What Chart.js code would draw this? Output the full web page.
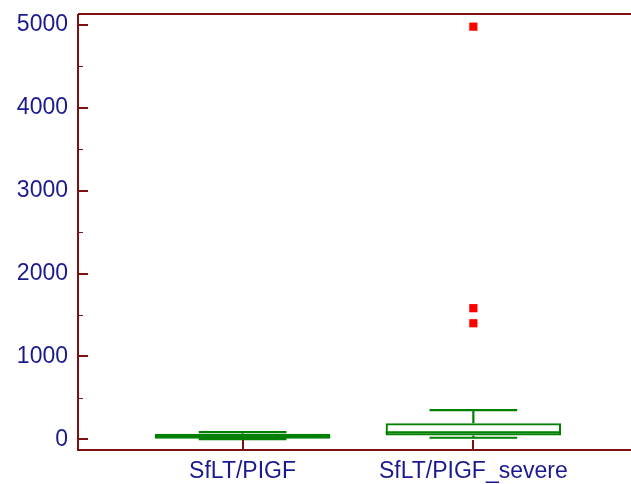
<!DOCTYPE html>
<html>
<head>
<meta charset="utf-8">
<script src="https://cdn.jsdelivr.net/npm/chart.js@4.4.1/dist/chart.umd.min.js"></script>
<style>
  html, body { margin: 0; padding: 0; background: #ffffff; }
  #wrap { width: 631px; height: 484px; position: relative; }
</style>
</head>
<body>
<div id="wrap"><canvas id="c" width="631" height="484"></canvas></div>
<script>
// ---- data ----
const categories = ['SfLT/PIGF', 'SfLT/PIGF_severe'];
const categoryPos = [1, 2];
const whiskerMin = [1, 18];
const q1Values = [5, 45];
const medianValues = [30, 82];
const q3Values = [65, 193];
const whiskerMax = [85, 352];
const outlierCategory = [2, 2, 2];
const outlierValues = [4980, 1582, 1400];
const yTicks = [0, 1000, 2000, 3000, 4000, 5000];
const yTickLabels = ['0', '1000', '2000', '3000', '4000', '5000'];
const yMinorTicks = [500, 1500, 2500, 3500, 4500];

const AXIS = '#7d1010';
const GREEN = '#008000';
const TEXT = '#1a1a8e';
const FONT = 'Liberation Sans, Arial, sans-serif';

const boxData = categoryPos.map((x, i) => ({ x: x, y: [q1Values[i], q3Values[i]] }));
const outlierData = outlierValues.map((v, i) => ({ x: outlierCategory[i], y: v }));

const boxPlugin = {
  id: 'boxExtras',
  afterDatasetsDraw(chart) {
    const ctx = chart.ctx;
    const ys = chart.scales.y;
    const meta = chart.getDatasetMeta(0);
    ctx.save();
    ctx.strokeStyle = GREEN;
    ctx.lineWidth = 2.2;
    meta.data.forEach((bar, i) => {
      const cx = bar.x;
      const w = bar.width;
      const capHalf = w / 4;
      const pMed = ys.getPixelForValue(medianValues[i]);
      const pQ1 = ys.getPixelForValue(q1Values[i]);
      const pQ3 = ys.getPixelForValue(q3Values[i]);
      const pMin = ys.getPixelForValue(whiskerMin[i]);
      const pMax = ys.getPixelForValue(whiskerMax[i]);
      ctx.beginPath();
      // median
      ctx.moveTo(cx - w / 2, pMed); ctx.lineTo(cx + w / 2, pMed);
      // whiskers
      ctx.moveTo(cx, pQ3); ctx.lineTo(cx, pMax);
      ctx.moveTo(cx, pQ1); ctx.lineTo(cx, pMin);
      // caps
      ctx.moveTo(cx - capHalf, pMax); ctx.lineTo(cx + capHalf, pMax);
      ctx.moveTo(cx - capHalf, pMin); ctx.lineTo(cx + capHalf, pMin);
      ctx.stroke();
    });
    ctx.restore();
  },
  afterDraw(chart) {
    const ctx = chart.ctx;
    const a = chart.chartArea;
    const ys = chart.scales.y;
    const xs = chart.scales.x;
    ctx.save();
    ctx.strokeStyle = AXIS;
    ctx.lineWidth = 2;
    ctx.beginPath();
    ctx.moveTo(a.left, a.top); ctx.lineTo(a.right, a.top);
    ctx.moveTo(a.left, a.top); ctx.lineTo(a.left, a.bottom);
    ctx.moveTo(a.left - 1, a.bottom); ctx.lineTo(a.right, a.bottom);
    yTicks.forEach(v => {
      const p = Math.round(ys.getPixelForValue(v));
      ctx.moveTo(a.left, p); ctx.lineTo(a.left + 10, p);
    });
    ctx.stroke();
    ctx.lineWidth = 1.2;
    ctx.beginPath();
    yMinorTicks.forEach(v => {
      const p = Math.round(ys.getPixelForValue(v)) + 0.5;
      ctx.moveTo(a.left, p); ctx.lineTo(a.left + 5, p);
    });
    ctx.stroke();
    ctx.lineWidth = 2;
    ctx.beginPath();
    categoryPos.forEach(v => {
      const p = Math.round(xs.getPixelForValue(v));
      ctx.moveTo(p, a.bottom); ctx.lineTo(p, a.bottom - 10);
    });
    ctx.stroke();
    ctx.restore();
  }
};

new Chart(document.getElementById('c'), {
  type: 'bar',
  data: {
    datasets: [
      {
        type: 'bar',
        data: boxData,
        backgroundColor: '#ffffff',
        borderColor: GREEN,
        borderWidth: 2.2,
        borderSkipped: false,
        barPercentage: 0.76,
        categoryPercentage: 1,
        order: 2
      },
      {
        type: 'scatter',
        data: outlierData,
        pointStyle: 'rect',
        pointRadius: 5.8,
        pointHoverRadius: 5.8,
        backgroundColor: '#ff0000',
        borderWidth: 0,
        clip: false,
        order: 1
      }
    ]
  },
  options: {
    responsive: false,
    animation: false,
    events: [],
    layout: { padding: 0, autoPadding: false },
    plugins: { legend: { display: false }, tooltip: { enabled: false } },
    scales: {
      x: {
        type: 'linear',
        min: 0.287,
        max: 2.683,
        offset: false,
        grid: { display: false, drawTicks: false },
        border: { display: false },
        afterBuildTicks: (s) => { s.ticks = categoryPos.map(v => ({ value: v })); },
        afterFit: (s) => { s.height = 34; s.paddingLeft = 0; s.paddingRight = 0; },
        ticks: {
          autoSkip: false,
          maxRotation: 0,
          padding: 8,
          color: TEXT,
          font: { family: FONT, size: 23 },
          callback: (v) => categories[categoryPos.indexOf(v)] || ''
        }
      },
      y: {
        type: 'linear',
        min: -130,
        max: 5133,
        grid: { display: false, drawTicks: false },
        border: { display: false },
        afterBuildTicks: (s) => { s.ticks = yTicks.map(v => ({ value: v })); },
        afterFit: (s) => { s.width = 78; s.paddingTop = 14; s.paddingBottom = 0; },
        ticks: {
          padding: 10,
          color: TEXT,
          font: { family: FONT, size: 23 },
          callback: (v) => yTickLabels[yTicks.indexOf(v)]
        }
      }
    }
  },
  plugins: [boxPlugin]
});
</script>
</body>
</html>
